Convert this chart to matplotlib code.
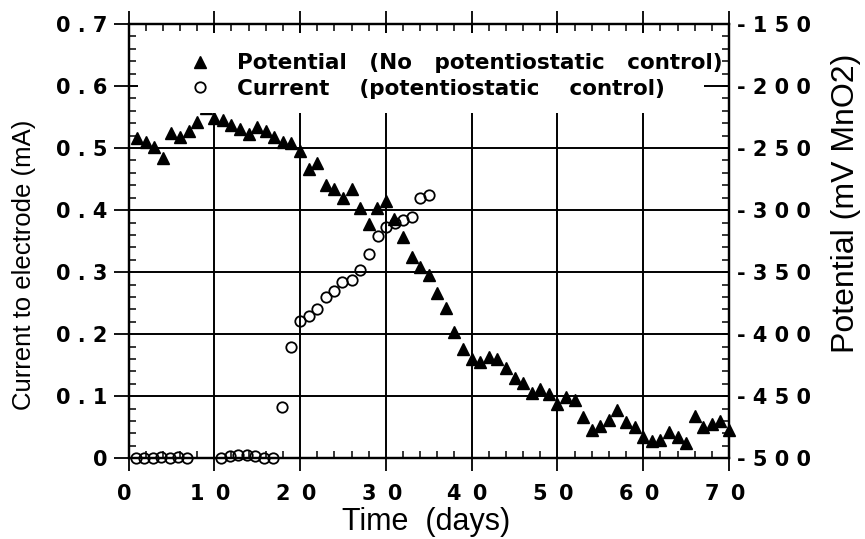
import numpy as np
import matplotlib
matplotlib.use("Agg")
import matplotlib.pyplot as plt
from matplotlib.patches import Rectangle
from matplotlib.transforms import ScaledTranslation

plt.rcParams['font.family'] = ['Liberation Sans', 'DejaVu Sans']

# electrode potential without potentiostatic control (mV vs MnO2), one reading per day
pot_days = np.arange(1, 71)
pot_mv = [-242, -245, -249, -258, -238, -241, -236, -229, -218, -226,
          -227, -231, -235, -239, -233, -236, -241, -245, -246, -252,
          -267, -262, -280, -283, -290, -283, -298, -311, -298, -293,
          -307, -322, -338, -346, -352, -367, -379, -398, -412, -420,
          -422, -418, -420, -427, -435, -439, -447, -444, -448, -456,
          -451, -453, -467, -477, -474, -469, -461, -471, -475, -483,
          -486, -485, -479, -483, -488, -466, -475, -472, -470, -477]

# current drawn under potentiostatic control (mA)
cur_days = [0.85, 1.8, 2.8, 3.8, 4.8, 5.8, 6.8,
            10.8, 11.8, 12.8, 13.8, 14.8, 15.8, 16.9,
            17.9, 18.95, 20.0, 21.0, 22.0, 23.0, 24.0, 24.9, 26.0, 27.0,
            28.0, 29.05, 30.05, 31.1, 32.05, 33.0, 34.0, 35.05]
cur_ma = [0, 0, 0, 0.002, 0, 0.002, 0,
          0, 0.003, 0.005, 0.005, 0.003, 0, 0,
          0.082, 0.18, 0.221, 0.23, 0.24, 0.26, 0.269, 0.284, 0.288, 0.304,
          0.329, 0.358, 0.373, 0.38, 0.384, 0.389, 0.419, 0.424]

SP = ' \u2009'
x_major = list(range(0, 71, 10))
x_labels = ['0'] + [SP.join(str(v)) for v in x_major[1:]]
y_major = [0, 0.1, 0.2, 0.3, 0.4, 0.5, 0.6, 0.7]
y_labels = ['0', '0 . 1', '0 . 2', '0 . 3', '0 . 4', '0 . 5', '0 . 6', '0 . 7']
r_major = list(range(-500, -149, 50))
r_labels = ['- 5 0 0', '- 4 5 0', '- 4 0 0', '- 3 5 0',
            '- 3 0 0', '- 2 5 0', '- 2 0 0', '- 1 5 0']

legend_labels = ['Potential   (No   potentiostatic   control)',
                 'Current    (potentiostatic    control)']

fig = plt.figure(figsize=(8.65, 5.39), dpi=100)
ax = fig.add_axes([128.5 / 865, (539 - 458.3) / 539, 600.5 / 865, 434.3 / 539])
ax2 = ax.twinx()

tick_font = dict(family='DejaVu Sans', weight='bold', size=15)

# left axis: current
ax.set_xlim(0, 70)
ax.set_ylim(0, 0.7)
ax.set_xticks(x_major, x_labels, **tick_font)
ax.set_xticks(np.arange(0, 71, 2), minor=True)
ax.set_yticks(y_major, y_labels, **tick_font)
ax.set_yticks(np.arange(0, 0.701, 0.02), minor=True)
ax.grid(True, which='major', color='black', lw=1.4)
ax.tick_params(axis='x', which='major', direction='out', length=9.5, width=1.3,
               top=True, pad=9)
ax.tick_params(axis='x', which='minor', direction='in', length=5, width=1.1, top=True)
ax.tick_params(axis='y', which='major', direction='out', length=11, width=1.3, pad=4)
ax.tick_params(axis='y', which='minor', direction='in', length=5, width=1.1)
for s in ax.spines.values():
    s.set_linewidth(1.6)
# day labels sit a little left of their ticks
for lab in ax.get_xticklabels():
    lab.set_transform(lab.get_transform() + ScaledTranslation(-0.04, 0, fig.dpi_scale_trans))

circ, = ax.plot(cur_days, cur_ma, linestyle='none', marker='o', ms=7.5,
                mfc='none', mec='black', mew=1.3, clip_on=False, zorder=3)

ax.set_xlabel('Time  (days)', fontsize=22)
ax.xaxis.set_label_coords(0.495, -0.147)
ax.xaxis.label.set(va='center', ha='center')
ax.set_ylabel('Current to electrode (mA)', fontsize=18.5)
ax.yaxis.set_label_coords(-0.174, 0.445)
ax.yaxis.label.set(va='center', ha='center', rotation_mode='default')

# right axis: potential
ax2.set_ylim(-500, -150)
ax2.set_yticks(r_major, r_labels, **tick_font)
ax2.set_yticks(np.arange(-500, -149, 10), minor=True)
ax2.tick_params(axis='y', which='both', direction='in', length=5, width=1.1, pad=6)
for s in ax2.spines.values():
    s.set_linewidth(1.6)

tri, = ax2.plot(pot_days, pot_mv, linestyle='none', marker='^', ms=9,
                color='black', clip_on=False, zorder=2)

ax2.set_ylabel('Potential (mV MnO2)', fontsize=23)
ax2.yaxis.set_label_coords(1.1955, 0.5876)
ax2.yaxis.label.set(va='center', ha='center', rotation_mode='default')

# white block behind the key hides the grid underneath it
ax2.add_patch(Rectangle((0.015, 0.795), 0.944, 0.185, transform=ax2.transAxes,
                        facecolor='white', edgecolor='none', zorder=4))
ax2.legend([tri, circ], legend_labels, loc='upper left',
           bbox_to_anchor=(0.101, 0.933), bbox_transform=ax2.transAxes,
           frameon=False, prop=dict(family='DejaVu Sans', weight='bold', size=15.5),
           handlelength=1.0, handletextpad=1.22, labelspacing=0.26,
           borderpad=0, borderaxespad=0, numpoints=1)

fig.savefig('out.png', dpi=100)
